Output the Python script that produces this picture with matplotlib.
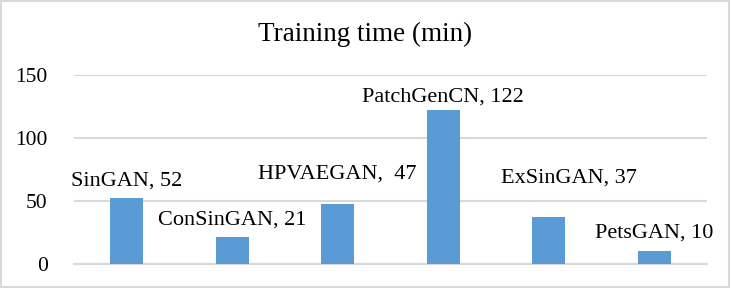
import matplotlib
matplotlib.use("Agg")
import matplotlib.pyplot as plt
from matplotlib.patches import Rectangle

# data
models = ["SinGAN", "ConSinGAN", "HPVAEGAN", "PatchGenCN", "ExSinGAN", "PetsGAN"]
minutes = [52, 21, 47, 122, 37, 10]
label_texts = ["SinGAN, 52", "ConSinGAN, 21", "HPVAEGAN,  47",
               "PatchGenCN, 122", "ExSinGAN, 37", "PetsGAN, 10"]
y_ticks = [0, 50, 100, 150]

# label offsets in pixels (manually placed in the original)
label_dx = [0, 0, 0, 0, 20, 0]
label_dy = [13, 13, 26, 8, 35, 14]

bar_color = "#5B9BD5"
grid_color = "#D9D9D9"

plt.rcParams["font.family"] = ["Liberation Serif", "DejaVu Serif"]

fig = plt.figure(figsize=(7.31, 2.88), dpi=100)
ax = fig.add_axes([0.1012, 0.0844, 0.866, 0.6562])

x = list(range(len(models)))
ax.bar(x, minutes, width=0.313, color=bar_color, zorder=3)

for i, (val, txt) in enumerate(zip(minutes, label_texts)):
    ax.annotate(txt, xy=(i, val), xytext=(label_dx[i], label_dy[i]),
                textcoords="offset pixels", ha="center", va="baseline",
                fontsize=16, color="black")

ax.set_xlim(-0.5, len(models) - 0.5)
ax.set_ylim(0, 150)
ax.set_yticks(y_ticks)
ax.set_xticks([])
ax.tick_params(axis="y", length=0, pad=19, labelsize=15.5, labelcolor="black")
ax.yaxis.grid(True, color=grid_color, linewidth=1.5, zorder=0)
for side in ["top", "right", "left"]:
    ax.spines[side].set_visible(False)
ax.spines["bottom"].set_color(grid_color)
ax.spines["bottom"].set_linewidth(1.5)

fig.text(0.5, 0.857, "Training time (min)", ha="center", va="baseline",
         fontsize=19.5, color="black")

# light chart border
fig.patches.append(Rectangle((0.002, 0.005), 0.995, 0.99, transform=fig.transFigure,
                             fill=False, edgecolor=grid_color, linewidth=1.5))

fig.savefig("out.png", dpi=100)
